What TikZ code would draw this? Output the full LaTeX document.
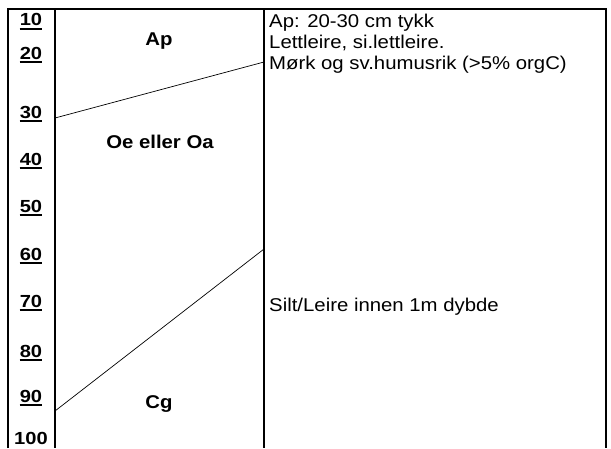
\documentclass[tikz,border=0pt]{standalone}
\usepackage{fontspec}
\usepackage{graphicx}
\setmainfont{Liberation Sans}
\newcommand{\wide}[1]{\scalebox{1.15}[1]{#1}}
\newcommand{\notewide}[1]{\scalebox{1.1}[1]{#1}}
\tikzset{
  depth/.style={font=\bfseries\fontsize{17.5}{17.5}\selectfont,inner sep=0pt,anchor=base},
  horizon/.style={font=\bfseries\fontsize{18.5}{18.5}\selectfont,inner sep=0pt,anchor=base},
  note/.style={font=\fontsize{18.5}{18.5}\selectfont,inner sep=0pt,anchor=base west},
  frame/.style={line width=1.2pt},
  boundary/.style={line width=0.7pt},
  ul/.style={line width=2pt}
}
\begin{document}
\begin{tikzpicture}[x=1pt,y=-1pt]
  \useasboundingbox (0,0) rectangle (611,448);
  % profile frame
  \draw[frame] (8,448) -- (8,9) -- (606,9) -- (606,448);
  \draw[frame] (55,9) -- (55,448);
  \draw[frame] (264,9) -- (264,448);
  % horizon boundaries
  \coordinate (apL) at (55,118);
  \coordinate (apR) at (264,62);
  \coordinate (cgL) at (55,411);
  \coordinate (cgR) at (264,249);
  \draw[boundary] (apL) -- (apR);
  \draw[boundary] (cgL) -- (cgR);
  % depth scale (cm)
  \foreach \d/\y in {10/25.5,20/59,30/118,40/165,50/212,60/260,70/307,80/357,90/402} {
    \node[depth] (d\d) at (31,\y) {\wide{\d}};
    \draw[ul] ([yshift=-3.2pt]d\d.base west) -- ([yshift=-3.2pt]d\d.base east);
  }
  \node[depth] (d100) at (31,444.5) {\wide{100}};
  % horizons
  \node[horizon] (ap) at (159,45) {\notewide{Ap}};
  \node[horizon] (oe) at (160,148) {\notewide{Oe eller Oa}};
  \node[horizon] (cg) at (159,408) {\notewide{Cg}};
  % description
  \node[note] (n1) at (269,27) {\notewide{Ap: 20-30 cm tykk}};
  \node[note] (n2) at (269,48) {\notewide{Lettleire, si.lettleire.}};
  \node[note] (n3) at (269,69) {\notewide{Mørk og sv.humusrik (>5\% orgC)}};
  \node[note] (n4) at (269,311) {\notewide{Silt/Leire innen 1m dybde}};
\end{tikzpicture}
\end{document}
